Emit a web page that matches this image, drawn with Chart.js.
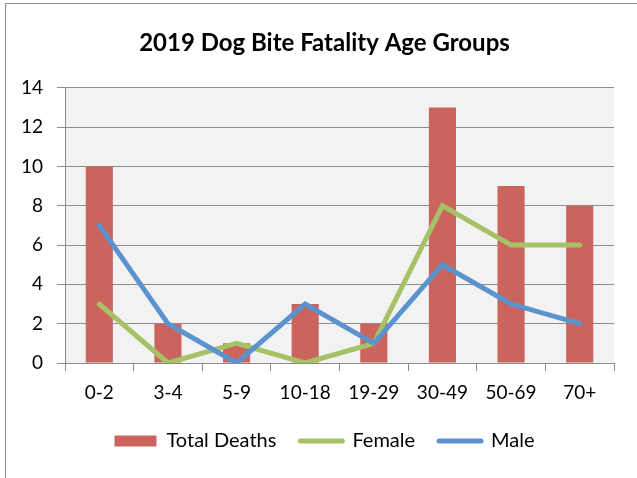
<!DOCTYPE html>
<html><head><meta charset="utf-8">
<script src="https://cdn.jsdelivr.net/npm/chart.js@4/dist/chart.umd.min.js"></script>
<style>
html,body{margin:0;padding:0;background:#fff;}
#wrap{position:relative;width:637px;height:478px;overflow:hidden;}
#frame{position:absolute;left:5px;top:3px;width:640px;height:500px;border:1.5px solid #8c8c8c;box-sizing:border-box;}
canvas{position:absolute;left:0;top:0;}
</style></head>
<body><div id="wrap"><div id="frame"></div><canvas id="c" width="637" height="478"></canvas></div>
<script>
const categories = ['0-2','3-4','5-9','10-18','19-29','30-49','50-69','70+'];
const totalDeaths = [10,2,1,3,2,13,9,8];
const female = [3,0,1,0,1,8,6,6];
const male = [7,2,0,3,1,5,3,2];
const yTicks = [0,2,4,6,8,10,12,14];

const FONT = 'Lato, "Open Sans", sans-serif';
const plotBg = {
  id:'plotBg',
  beforeDraw(chart){
    const {ctx, chartArea:a} = chart;
    ctx.save(); ctx.fillStyle='#f2f2f2';
    ctx.fillRect(a.left,a.top,a.right-a.left,a.bottom-a.top); ctx.restore();
  }
};
new Chart(document.getElementById('c'), {
  data:{
    labels: categories,
    datasets:[
      {type:'line', label:'Female', data:female, borderColor:'#a5c266', backgroundColor:'#a5c266', borderWidth:5, pointRadius:0, borderCapStyle:'round', borderJoinStyle:'miter', tension:0, order:1},
      {type:'line', label:'Male', data:male, borderColor:'#5b93cf', backgroundColor:'#5b93cf', borderWidth:5, pointRadius:0, borderCapStyle:'round', borderJoinStyle:'miter', tension:0, order:0},
      {type:'bar', label:'Total Deaths', data:totalDeaths, backgroundColor:'#cb645d', borderWidth:0, barPercentage:0.395, categoryPercentage:1, order:2}
    ]
  },
  options:{
    responsive:false, animation:false,
    layout:{padding:{left:12,right:0,top:0,bottom:17}},
    plugins:{
      title:{display:true, text:'2019 Dog Bite Fatality Age Groups', color:'#000', font:{family:FONT, size:24, weight:'bold', lineHeight:1.2}, padding:{top:29,bottom:30}},
      legend:{position:'bottom',
        labels:{color:'#000', font:{family:FONT,size:20}, usePointStyle:true, pointStyleWidth:42, boxHeight:11, padding:24,
          sort:(a,b)=>{const o={'Total Deaths':0,'Female':1,'Male':2};return o[a.text]-o[b.text];},
          generateLabels(chart){
            const items = Chart.defaults.plugins.legend.labels.generateLabels(chart);
            items.forEach(it=>{
              if(it.text==='Total Deaths'){it.pointStyle='rect';it.lineWidth=0;}
              else {it.pointStyle='line';it.lineWidth=5;it.lineCap='round';}
            });
            return items;
          }
        }},
      tooltip:{enabled:false}
    },
    scales:{
      x:{offset:true, afterFit(s){s.height=44;},
         grid:{display:true, drawOnChartArea:false, offset:true, tickLength:8, color:'#8c8c8c'}, border:{color:'#8c8c8c', width:1},
         ticks:{color:'#000', font:{family:FONT,size:19}, padding:10, maxRotation:0}},
      y:{min:0,max:14, afterBuildTicks(s){s.ticks=yTicks.map(v=>({value:v}));},
         afterFit(s){s.width=53;},
         grid:{color:'#8c8c8c', tickLength:8}, border:{color:'#8c8c8c'},
         ticks:{color:'#000', font:{family:FONT,size:19}, padding:14}},
      yRight:{position:'right', display:true, afterFit(s){s.width=23;},
         grid:{display:false}, border:{display:false}, ticks:{display:false}}
    }
  },
  plugins:[plotBg]
});
</script></body></html>
